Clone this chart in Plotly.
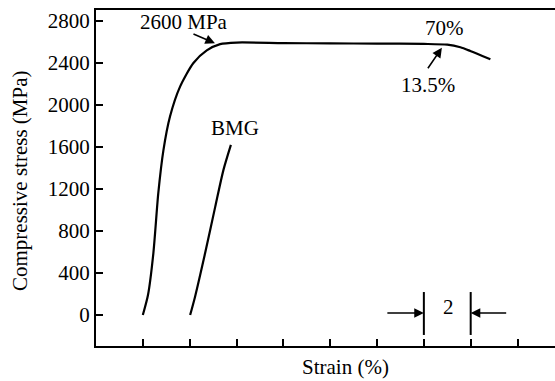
import plotly.graph_objects as go

# Composite curve (strain %, stress MPa)
comp_strain = [2.0, 2.22, 2.45, 2.66, 2.88, 3.16, 3.59, 4.16, 4.73, 5.30, 6.0, 8.0, 10.0, 12.0, 14.0, 15.0, 15.56, 15.98, 16.84]
comp_stress = [0, 190, 590, 1160, 1570, 1890, 2175, 2400, 2520, 2580, 2595, 2590, 2587, 2585, 2582, 2575, 2550, 2515, 2435]

# BMG curve
bmg_strain = [4.02, 4.23, 4.66, 5.09, 5.44, 5.76]
bmg_stress = [0, 175, 590, 1030, 1380, 1620]

y_ticks = [0, 400, 800, 1200, 1600, 2000, 2400, 2800]
x_ticks = [2, 4, 6, 8, 10, 12, 14, 16, 18]

FONT = "Liberation Serif"
FS = 21

fig = go.Figure()
line = dict(color="black", width=2.2, shape="spline", smoothing=0.7)
fig.add_trace(go.Scatter(x=comp_strain, y=comp_stress, mode="lines", line=line, showlegend=False))
fig.add_trace(go.Scatter(x=bmg_strain, y=bmg_stress, mode="lines", line=line, showlegend=False))

# scale bar vertical lines
for xv in (14, 16):
    fig.add_shape(type="line", x0=xv, x1=xv, y0=-190, y1=219, xref="x", yref="y",
                  line=dict(color="black", width=2))

anns = []
def text(x, y, s):
    anns.append(dict(x=x, y=y, xref="x", yref="y", text=s, showarrow=False,
                     xanchor="center", yanchor="middle",
                     font=dict(family=FONT, size=FS, color="black")))
def arrow(x, y, ax, ay):
    anns.append(dict(x=x, y=y, xref="x", yref="y", text="", showarrow=True, ax=ax, ay=ay,
                     arrowhead=2, arrowsize=1.2, arrowwidth=1.6, arrowcolor="black"))

text(3.75, 2790, "2600 MPa")
text(5.94, 1781, "BMG")
text(14.87, 2733, "70%")
text(14.19, 2190, "13.5%")
text(15.04, 76, "2")
arrow(5.08, 2588, -23, -10)
arrow(14.77, 2545, -15, 22)
arrow(14.0, 19, -38, 0)
arrow(16.0, 19, 37, 0)

W, H = 555, 381
ml, mr, mt, mb = 96, 0, 10, 35
pw, ph = W - ml - mr, H - mt - mb

def title(px, py, s, angle=0):
    anns.append(dict(x=(px - ml) / pw, y=1 - (py - mt) / ph, xref="paper", yref="paper",
                     text=s, showarrow=False, textangle=angle, xanchor="center", yanchor="middle",
                     font=dict(family=FONT, size=FS, color="black")))

title(345, 367, "Strain (%)")
title(20, 181, "Compressive stress (MPa)", -90)

fig.update_layout(
    width=W, height=H,
    margin=dict(l=ml, r=mr, t=mt, b=mb, pad=0),
    paper_bgcolor="white", plot_bgcolor="white",
    annotations=anns,
    font=dict(family=FONT, size=FS, color="black"),
    xaxis=dict(range=[0, 19.6], tickvals=x_ticks, showticklabels=False, ticks="inside",
               ticklen=7, tickwidth=2, tickcolor="black", showline=True, linecolor="black",
               linewidth=2, mirror=True, showgrid=False, zeroline=False),
    yaxis=dict(range=[-295, 2905], tickvals=y_ticks, ticks="inside", ticklen=7, tickwidth=2,
               tickcolor="black", showline=True, linecolor="black", linewidth=2,
               showgrid=False, zeroline=False,
               tickfont=dict(family=FONT, size=FS, color="black")),
)
fig.write_html("out.html")
